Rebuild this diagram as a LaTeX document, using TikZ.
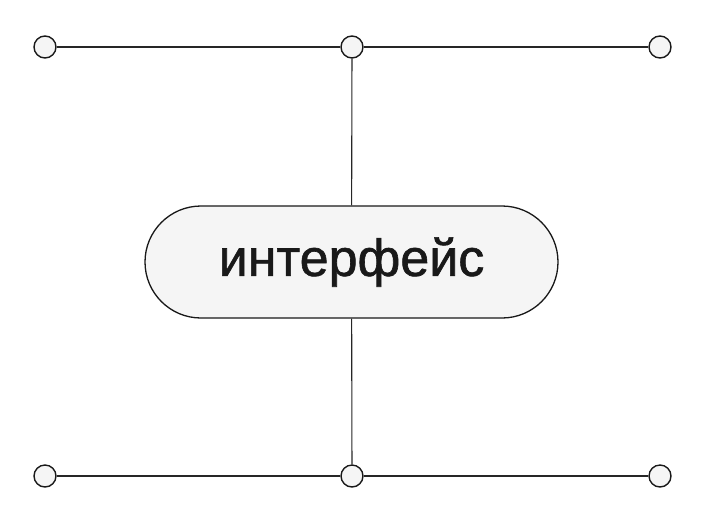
\documentclass[tikz,border=0pt]{standalone}
\usepackage{fontspec}
\setmainfont{Liberation Sans}
\newfontfamily\pillfont[FakeBold=1.2]{Liberation Sans}
\usetikzlibrary{shapes.misc}
\begin{document}
\begin{tikzpicture}[x=1pt,y=-1pt,
  dot/.style={circle,draw=black!90,line width=1.4pt,fill=black!4,minimum size=22pt,inner sep=0pt},
  wire/.style={draw=black!85,line width=1.1pt},
  pill/.style={rounded rectangle,draw=black!90,line width=1.3pt,fill=black!4,minimum width=413pt,minimum height=112pt,inner sep=0pt,font=\pillfont\fontsize{52}{60}\selectfont,text=black!90}]
\useasboundingbox (0,0) rectangle (706,523);
\node[dot] (tl) at (45,47) {};
\node[dot] (tm) at (352,47) {};
\node[dot] (tr) at (660,47) {};
\node[dot] (bl) at (45,476) {};
\node[dot] (bm) at (352,476) {};
\node[dot] (br) at (660,476) {};
\node[pill] (c) at (351.5,262) {интерфейс};
\draw[wire] (tl) -- (tm);
\draw[wire] (tm) -- (tr);
\draw[wire] (bl) -- (bm);
\draw[wire] (bm) -- (br);
\draw[wire] (tm) -- (c);
\draw[wire] (c) -- (bm);
\end{tikzpicture}
\end{document}
